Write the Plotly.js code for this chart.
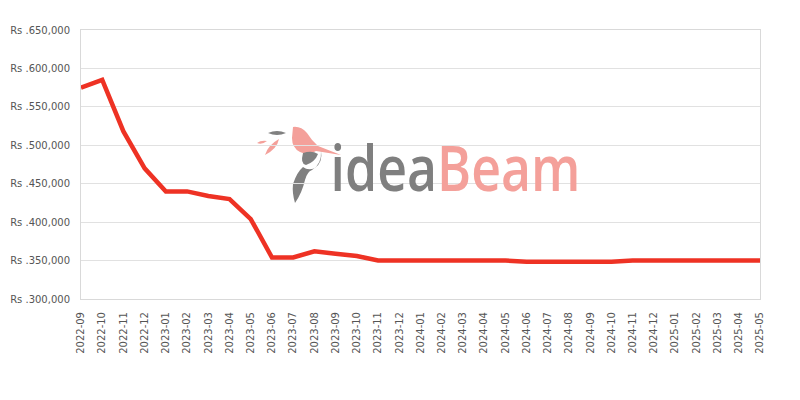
<!DOCTYPE html>
<html>
<head>
<meta charset="utf-8">
<script src="https://cdn.plot.ly/plotly-3.0.1.min.js"></script>
<style>html,body{margin:0;padding:0;background:#fff;}#chart{width:800px;height:400px;}</style>
</head>
<body>
<div id="chart"></div>
<script>
const months = ["2022-09","2022-10","2022-11","2022-12","2023-01","2023-02","2023-03","2023-04","2023-05","2023-06","2023-07","2023-08","2023-09","2023-10","2023-11","2023-12","2024-01","2024-02","2024-03","2024-04","2024-05","2024-06","2024-07","2024-08","2024-09","2024-10","2024-11","2024-12","2025-01","2025-02","2025-03","2025-04","2025-05"];
const prices = [575000,585000,518000,470000,440000,440000,434000,430000,404000,354000,354000,362000,359000,356000,350000,350000,350000,350000,350000,350000,350000,348500,348500,348500,348500,348500,350000,350000,350000,350000,350000,350000,350000];
const yTicks = [300000,350000,400000,450000,500000,550000,600000,650000];
const yTickText = yTicks.map(v => 'Rs .' + v.toLocaleString('en-US'));

// plot area in pixels (for the watermark decoration)
const PL = 81, PR = 760, PT = 30, PB = 299;
function P(path){
  return path.replace(/(-?\d+(?:\.\d+)?),(-?\d+(?:\.\d+)?)/g, function(m,a,b){
    const x = (parseFloat(a)-PL)/(PR-PL);
    const y = (PB-parseFloat(b))/(PB-PT);
    return x.toFixed(5)+','+y.toFixed(5);
  });
}
function shp(path,color){
  return {type:'path', xref:'paper', yref:'paper', path:P(path), fillcolor:color, line:{width:0}, layer:'below'};
}
const salmon = '#f4a09a', grey = '#808080';
const shapes = [
  shp('M268,133 Q277,129 286,133 Q277,137 268,133 Z', grey),
  shp('M257,143 Q261,140 267,141 Q262,145 257,143 Z', salmon),
  shp('M265,155 Q268,145 279,139 Q277,149 265,155 Z', salmon),
  shp('M293,127 Q301,126 307,133 Q312,141 318,146 L341,155 L316,151 Q308,156 300,152 Q292,148 292,138 Z', salmon),
  shp('M321,151 Q323,162 315,168 Q308,171 303,167 Q297,172 293,184 Q292,193 295,203 Q302,193 305,180 Q307,172 312,170 Q322,164 321,151 Z', grey),
  shp('M303,153 Q312,150 318,154 Q315,162 306,165 Q300,164 303,153 Z', grey)
];

const trace = {
  x: months, y: prices, type:'scatter', mode:'lines',
  line:{color:'#ee3224', width:4.5},
  hoverinfo:'x+y'
};

const layout = {
  width:800, height:400,
  margin:{l:PL, r:800-PR, t:PT, b:400-PB},
  paper_bgcolor:'#ffffff', plot_bgcolor:'#ffffff',
  showlegend:false,
  font:{family:'DejaVu Sans, sans-serif', size:10, color:'#555555'},
  xaxis:{
    type:'category', range:[0, months.length-1],
    tickangle:-90, showgrid:false, zeroline:false,
    showline:true, linecolor:'#d9d9d9', linewidth:1, mirror:true,
    ticks:'', ticklabelstandoff:8,
    tickfont:{family:'DejaVu Sans, sans-serif', size:10, color:'#555555'}
  },
  yaxis:{
    range:[300000,650000], tickmode:'array', tickvals:yTicks, ticktext:yTickText,
    showgrid:true, gridcolor:'#e1e1e1', zeroline:false,
    showline:true, linecolor:'#d9d9d9', linewidth:1, mirror:true,
    ticks:'', ticklabelstandoff:8,
    tickfont:{family:'DejaVu Sans, sans-serif', size:10, color:'#555555'}
  },
  shapes: shapes,
  annotations:[{
    xref:'paper', yref:'paper',
    x:(455-PL)/(PR-PL), y:(PB-166)/(PB-PT), xanchor:'center', yanchor:'middle',
    showarrow:false,
    text:"<span style='color:#7f7f7f'>idea</span><span style='color:#f4a09a'>Beam</span>",
    font:{family:'Open Sans, sans-serif', size:64, weight:600}
  }]
};

Plotly.newPlot('chart', [trace], layout, {displayModeBar:false, staticPlot:true}).then(function(){
  // narrow the watermark wordmark horizontally so it matches the condensed logo
  const t = document.querySelector('#chart .annotation-text');
  if (t) {
    const bb = t.getBBox();
    const target = 250;
    const sx = target / bb.width;
    const cx = bb.x + bb.width/2;
    t.setAttribute('transform', 'translate(' + cx + ',0) scale(' + sx + ',1) translate(' + (-cx) + ',0)');
  }
});
</script>
</body>
</html>
